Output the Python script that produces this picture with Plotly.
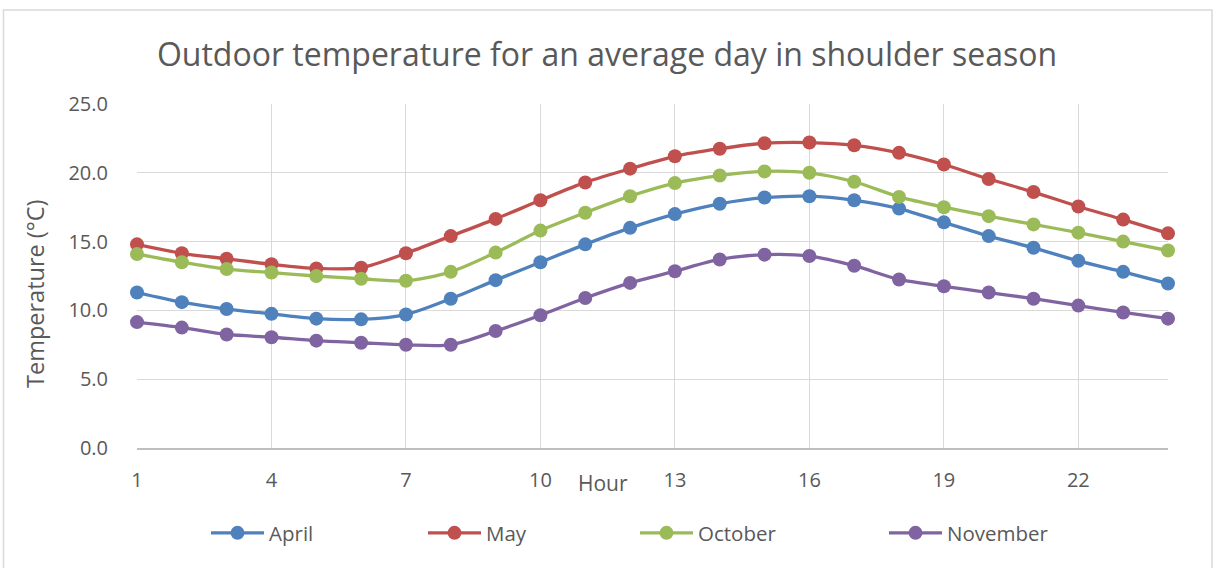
import plotly.graph_objects as go

# Hourly outdoor temperature (°C) for an average day in each shoulder-season month
hours = list(range(1, 25))
april = [11.3, 10.6, 10.1, 9.75, 9.4, 9.35, 9.7, 10.85, 12.2, 13.5, 14.8, 16.0,
         17.0, 17.75, 18.2, 18.3, 18.0, 17.4, 16.4, 15.4, 14.55, 13.6, 12.8, 11.95]
may = [14.8, 14.15, 13.75, 13.35, 13.05, 13.1, 14.15, 15.4, 16.65, 18.0, 19.3, 20.3,
       21.2, 21.75, 22.15, 22.2, 22.0, 21.45, 20.6, 19.55, 18.6, 17.55, 16.6, 15.6]
october = [14.1, 13.5, 13.0, 12.75, 12.5, 12.3, 12.15, 12.8, 14.2, 15.8, 17.1, 18.3,
           19.25, 19.8, 20.1, 20.0, 19.35, 18.25, 17.5, 16.85, 16.25, 15.65, 15.0, 14.35]
november = [9.15, 8.75, 8.25, 8.05, 7.8, 7.65, 7.5, 7.5, 8.5, 9.65, 10.9, 12.0,
            12.85, 13.7, 14.05, 13.95, 13.25, 12.25, 11.75, 11.3, 10.85, 10.35, 9.85, 9.4]

series_names = ["April", "May", "October", "November"]
series_values = [april, may, october, november]
series_colors = ["#4f81bd", "#c0504d", "#9bbb59", "#8064a2"]
legend_ids = ["legend", "legend2", "legend3", "legend4"]
legend_x = [206, 423, 635, 884]  # left edge of each legend entry, px

x_ticks = [1, 4, 7, 10, 13, 16, 19, 22]
y_ticks = [0, 5, 10, 15, 20, 25]

W, H = 1214, 568
L, R, T, B = 137, 46, 104, 120
TEXT = "#595959"
FONT = "Open Sans"

fig = go.Figure()
for name, vals, col, lg in zip(series_names, series_values, series_colors, legend_ids):
    fig.add_trace(go.Scatter(
        x=hours, y=vals, name=name, mode="lines+markers",
        line=dict(color=col, width=3.3, shape="spline", smoothing=0.8),
        marker=dict(color=col, size=14),
        cliponaxis=False, legend=lg,
    ))

legend_common = dict(orientation="h", xref="container", yref="container",
                     xanchor="left", yanchor="middle", y=1 - 533 / H,
                     font=dict(family=FONT, size=20.5, color=TEXT),
                     itemwidth=53, bgcolor="rgba(0,0,0,0)")
legends = {lg: dict(x=px / W, **legend_common) for lg, px in zip(legend_ids, legend_x)}

pw = W - L - R
ph = H - T - B

fig.update_layout(
    width=W, height=H,
    margin=dict(l=L, r=R, t=T, b=B),
    paper_bgcolor="white", plot_bgcolor="white",
    font=dict(family=FONT, color=TEXT),
    title=dict(text="Outdoor temperature for an average day in shoulder season",
               x=0.5, xanchor="center", xref="container",
               y=1 - 55 / H, yanchor="middle", yref="container",
               font=dict(family=FONT, size=32, color=TEXT)),
    xaxis=dict(range=[1, 24], tickvals=x_ticks, showgrid=True,
               gridcolor="#d9d9d9", gridwidth=1.3,
               showline=True, linecolor="#bfbfbf", linewidth=2,
               zeroline=False, ticks="", ticklabelstandoff=13,
               tickfont=dict(family=FONT, size=20, color=TEXT)),
    yaxis=dict(range=[0, 25], tickvals=y_ticks,
               ticktext=[f"{v:.1f}" for v in y_ticks],
               showgrid=True, gridcolor="#d9d9d9", gridwidth=1.3,
               zeroline=False, showline=False, ticks="", ticklabelstandoff=28,
               tickfont=dict(family=FONT, size=20, color=TEXT)),
    showlegend=True,
    **legends,
    annotations=[
        dict(text="Hour", xref="paper", yref="paper",
             x=(603 - L) / pw, y=(H - B - 483) / ph, showarrow=False,
             xanchor="center", yanchor="middle",
             font=dict(family=FONT, size=21, color=TEXT)),
        dict(text="Temperature (°C)", xref="paper", yref="paper",
             x=(35 - L) / pw, y=(H - B - 294) / ph, showarrow=False, textangle=-90,
             xanchor="center", yanchor="middle",
             font=dict(family=FONT, size=23.5, color=TEXT)),
    ],
    shapes=[dict(type="rect", xref="paper", yref="paper",
                 x0=(3.5 - L) / pw, x1=(1212 - L) / pw,
                 y0=(H - B - 575) / ph, y1=(H - B - 10) / ph,
                 line=dict(color="#d9d9d9", width=1.5), fillcolor="rgba(0,0,0,0)",
                 layer="below")],
)

fig.write_html("out.html")
